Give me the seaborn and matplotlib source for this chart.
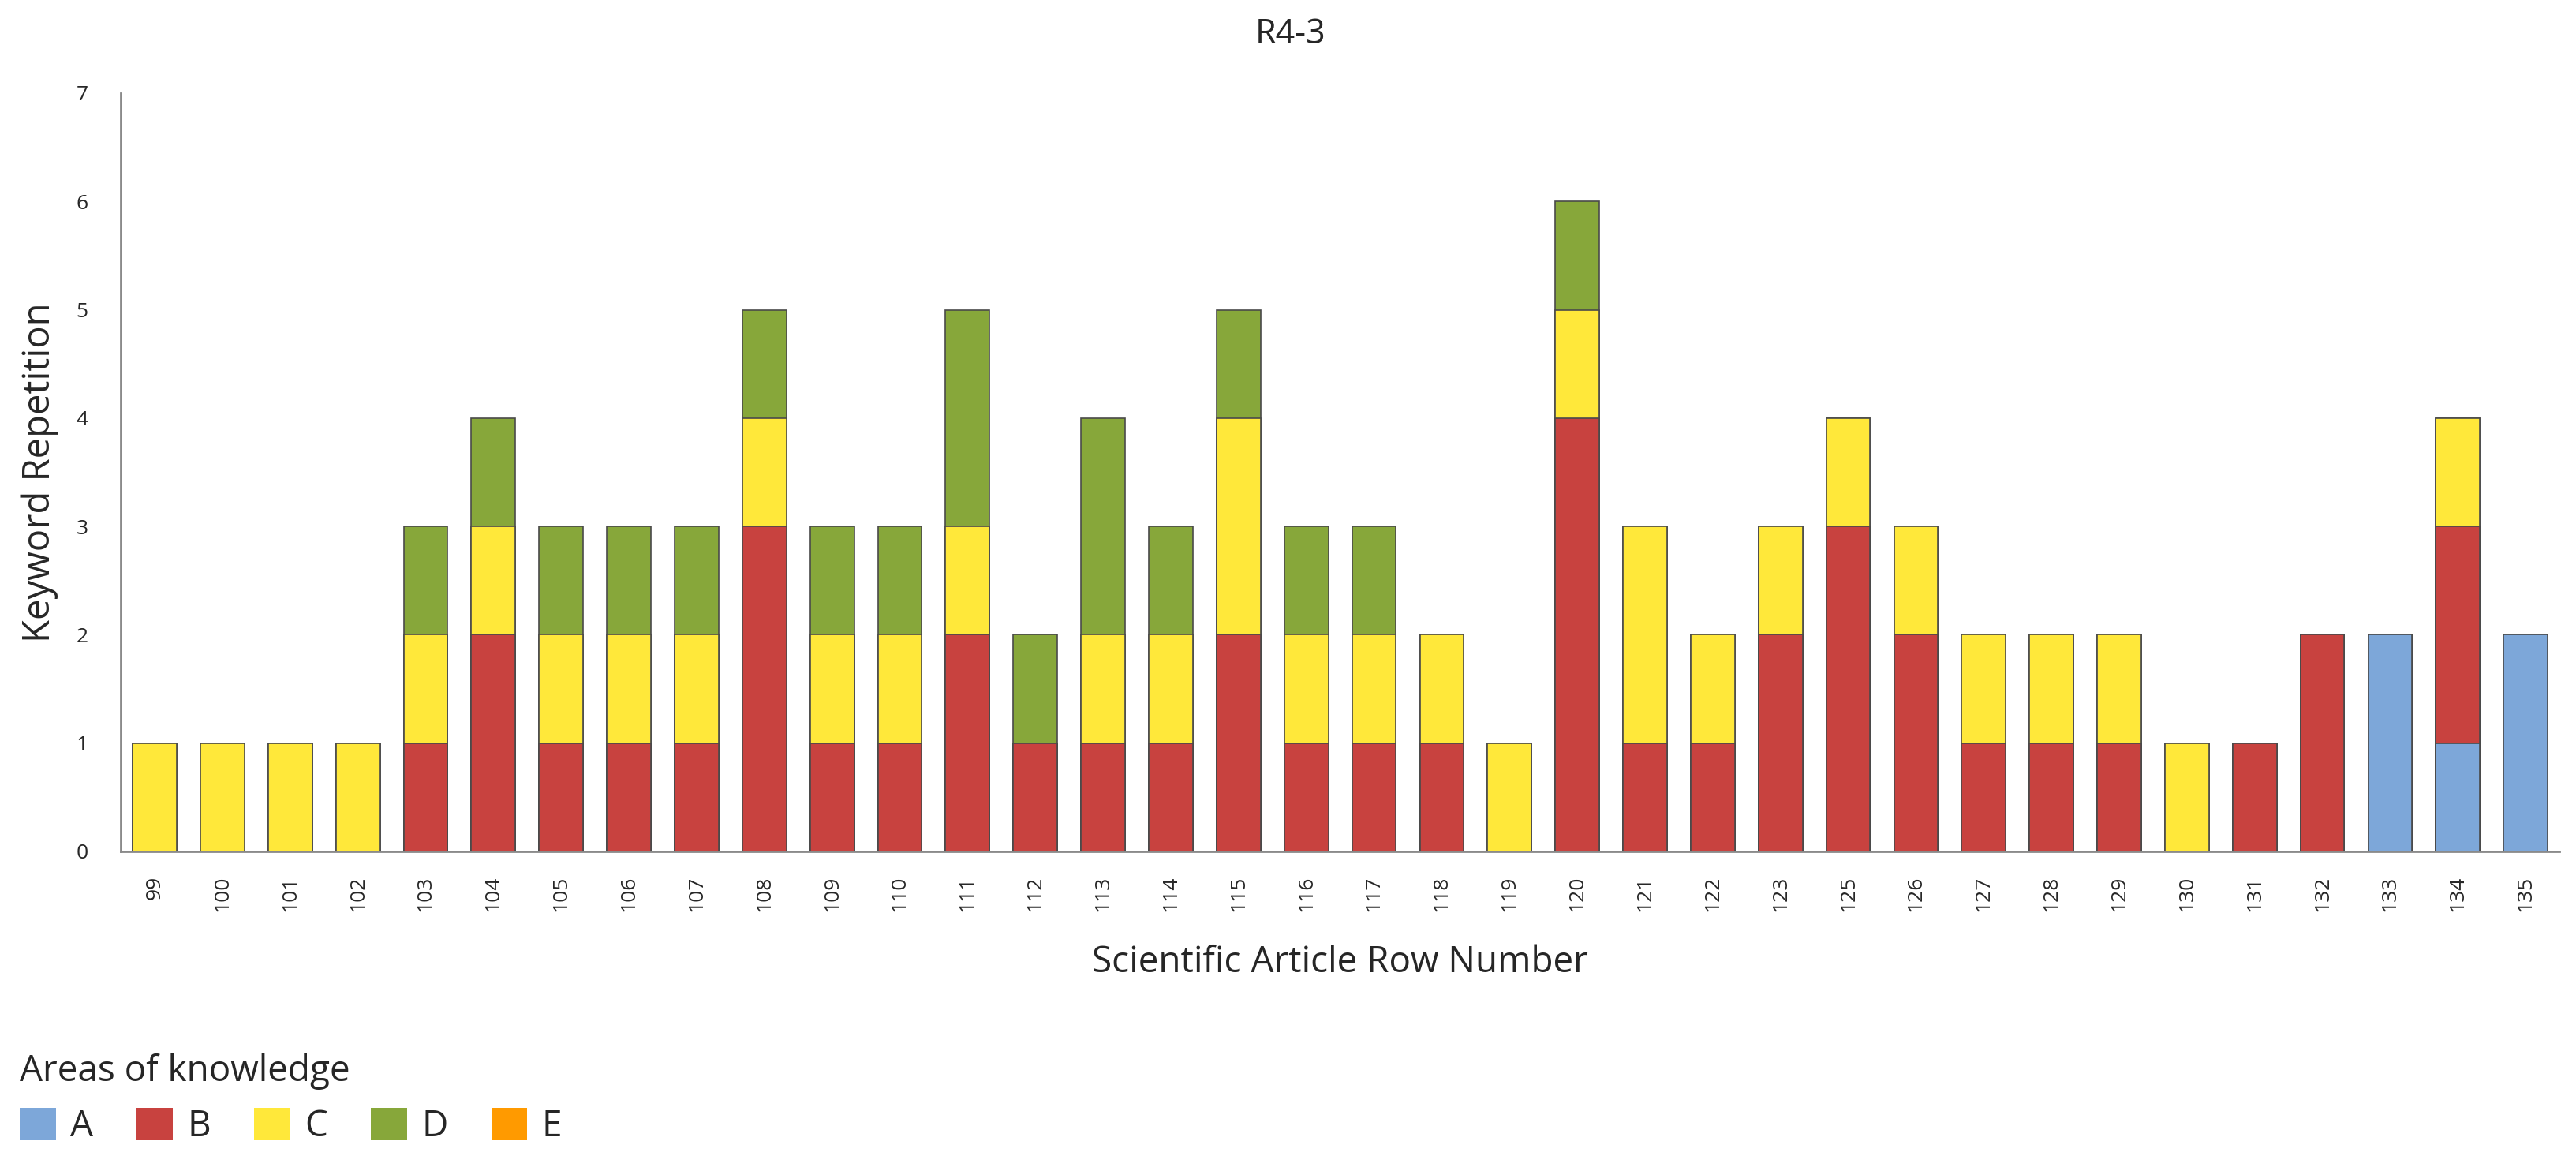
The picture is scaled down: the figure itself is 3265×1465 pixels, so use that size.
import numpy as np
import pandas as pd
import matplotlib
matplotlib.use("Agg")
import matplotlib.pyplot as plt
from matplotlib.patches import Patch
import seaborn as sns

# ──────────────────────────────────────────────
# Data
# ──────────────────────────────────────────────
rows = ["99", "100", "101", "102", "103", "104", "105", "106", "107", "108",
        "109", "110", "111", "112", "113", "114", "115", "116", "117", "118",
        "119", "120", "121", "122", "123", "125", "126", "127", "128", "129",
        "130", "131", "132", "133", "134", "135"]
area_a = [0, 0, 0, 0, 0, 0, 0, 0, 0, 0, 0, 0, 0, 0, 0, 0, 0, 0, 0, 0,
          0, 0, 0, 0, 0, 0, 0, 0, 0, 0, 0, 0, 0, 2, 1, 2]
area_b = [0, 0, 0, 0, 1, 2, 1, 1, 1, 3, 1, 1, 2, 1, 1, 1, 2, 1, 1, 1,
          0, 4, 1, 1, 2, 3, 2, 1, 1, 1, 0, 1, 2, 0, 2, 0]
area_c = [1, 1, 1, 1, 1, 1, 1, 1, 1, 1, 1, 1, 1, 0, 1, 1, 2, 1, 1, 1,
          1, 1, 2, 1, 1, 1, 1, 1, 1, 1, 1, 0, 0, 0, 1, 0]
area_d = [0, 0, 0, 0, 1, 1, 1, 1, 1, 1, 1, 1, 2, 1, 2, 1, 1, 1, 1, 0,
          0, 1, 0, 0, 0, 0, 0, 0, 0, 0, 0, 0, 0, 0, 0, 0]
area_e = [0] * len(rows)

areas = ["A", "B", "C", "D", "E"]
colors = {"A": "#7DA7D9", "B": "#C8423F", "C": "#FFE83A", "D": "#87A73A", "E": "#FF9A00"}

df = pd.DataFrame({"row": rows, "A": area_a, "B": area_b, "C": area_c,
                   "D": area_d, "E": area_e})

# ──────────────────────────────────────────────
# Plot
# ──────────────────────────────────────────────
sns.set_theme(style="white")
plt.rcParams["font.family"] = ["Open Sans", "DejaVu Sans"]

fig = plt.figure(figsize=(32.65, 14.65), dpi=100)
ax = fig.add_axes([0.0469, 0.2635, 0.9467, 0.656])

# stacked bars: draw cumulative totals from the top layer downwards
edge = "#4a4a4a"
for i in range(len(areas) - 1, -1, -1):
    layer = areas[i]
    cum = df[areas[: i + 1]].sum(axis=1)
    if df[layer].sum() == 0:
        continue
    sns.barplot(x=df["row"], y=cum, color=colors[layer], width=0.65,
                edgecolor=edge, linewidth=1.2, saturation=1, ax=ax,
                order=rows)

ax.set_ylim(0, 7)
ax.set_xlim(-0.5, len(rows) - 0.5)
ax.set_yticks(range(0, 8))
sns.despine(ax=ax)
for s in ["left", "bottom"]:
    ax.spines[s].set_color("#8a8a8a")
    ax.spines[s].set_linewidth(2)

ax.tick_params(axis="both", direction="out", length=10, width=1.5, color="#555555")
ax.tick_params(axis="y", labelsize=19, pad=20)
ax.tick_params(axis="x", labelsize=19, pad=12, labelrotation=90)

ax.set_xlabel("Scientific Article Row Number", fontsize=33, labelpad=30)
ax.set_ylabel("Keyword Repetition", fontsize=34, labelpad=16)
fig.suptitle("R4-3", fontsize=31, x=0.501, y=0.985)

handles = [Patch(facecolor=colors[a], edgecolor="none", label=a) for a in areas]
fig.legend(handles=handles, title="Areas of knowledge", ncol=5, frameon=False,
           loc="upper left", bbox_to_anchor=(0.0077, 0.089), fontsize=33,
           title_fontsize=33, alignment="left", handlelength=1.0, handleheight=1.0,
           handletextpad=0.4, columnspacing=1.2, borderpad=0, borderaxespad=0)

fig.savefig("out.png", dpi=100)
